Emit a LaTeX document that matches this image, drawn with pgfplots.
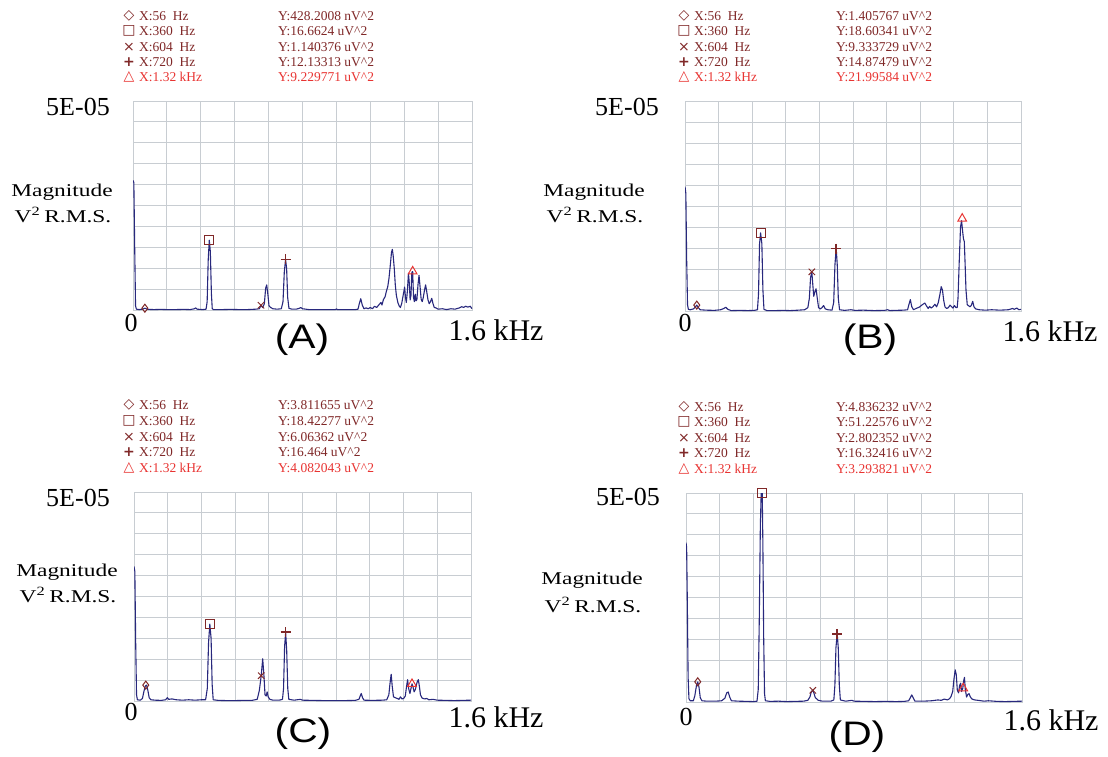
\documentclass[border=0pt]{standalone}
\usepackage{pgfplots}
\pgfplotsset{compat=1.18}
\usepackage{fontspec}
\setmainfont{Liberation Serif}
\newfontfamily\sansf{Liberation Sans}
\newfontfamily\symf{DejaVu Sans}

\definecolor{navy}{RGB}{40,40,125}
\definecolor{gridgray}{RGB}{200,205,210}
\definecolor{mkred}{RGB}{128,40,40}
\definecolor{trired}{RGB}{232,52,50}

\pgfplotsset{
  spec/.style={
    scale only axis, anchor=south west,
    xmin=0, xmax=1600, ymin=0, ymax=50,
    xtick={0,160,...,1600}, ytick={0,5,...,50},
    xticklabels={}, yticklabels={},
    major tick length=0pt,
    grid=major,
    major grid style={draw=gridgray, line width=0.9pt},
    axis line style={draw=gridgray, line width=0.9pt},
    clip mode=individual,
  },
  spline/.style={navy, line width=1.1pt, line join=round, mark=none},
  mk/.style={only marks, draw=mkred, line width=1pt, mark options={solid, fill=none}},
}

\newcommand\legtxt{\fontsize{13.5}{13.5}\selectfont}
\newcommand\symtxt{\fontsize{14}{14}\selectfont}
\newcommand\bigtxt{\fontsize{26}{26}\selectfont}
\newcommand\khz{\fontsize{30}{30}\selectfont}
\newcommand\magtxt[1]{\scalebox{1.3}[1]{\fontsize{18}{18}\selectfont #1}}
\newcommand\panel[1]{\scalebox{1.2}[1]{\sansf\fontsize{34}{34}\selectfont (#1)}}

% legend block: symbol x, X text x, Y text x, five row y's, five Y values
\newcommand\legend[9]{%
  \node[mkred, anchor=center, inner sep=0] at (#1pt,-#4pt) {\symf\symtxt ◇};
  \node[mkred, anchor=center, inner sep=0] at (#1pt,-#5pt) {\symf\symtxt □};
  \node[mkred, anchor=center, inner sep=0] at (#1pt,-#6pt) {\symf\symtxt ×};
  \node[mkred, anchor=center, inner sep=0] at (#1pt,-#7pt) {\symf\symtxt\bfseries +};
  \node[trired, anchor=center, inner sep=0] at (#1pt,-#8pt) {\symf\symtxt △};
  \node[mkred, anchor=west, inner sep=0] at (#2pt,-#4pt) {\legtxt X:56~~Hz};
  \node[mkred, anchor=west, inner sep=0] at (#2pt,-#5pt) {\legtxt X:360~~Hz};
  \node[mkred, anchor=west, inner sep=0] at (#2pt,-#6pt) {\legtxt X:604~~Hz};
  \node[mkred, anchor=west, inner sep=0] at (#2pt,-#7pt) {\legtxt X:720~~Hz};
  \node[trired, anchor=west, inner sep=0] at (#2pt,-#8pt) {\legtxt X:1.32 kHz};
  \def\ytx{#3}%
  \legendy#9%
}
\newcommand\legendy[5]{%
  \node[mkred, anchor=west, inner sep=0] at (\ytx pt,-\ra pt) {\legtxt Y:#1};
  \node[mkred, anchor=west, inner sep=0] at (\ytx pt,-\rb pt) {\legtxt Y:#2};
  \node[mkred, anchor=west, inner sep=0] at (\ytx pt,-\rc pt) {\legtxt Y:#3};
  \node[mkred, anchor=west, inner sep=0] at (\ytx pt,-\rd pt) {\legtxt Y:#4};
  \node[trired, anchor=west, inner sep=0] at (\ytx pt,-\re pt) {\legtxt Y:#5};
}

\begin{document}
\begin{tikzpicture}
\useasboundingbox (0pt,0pt) rectangle (1108pt,-756pt);

% ---------------- (A) ----------------
\begin{axis}[spec, at={(133pt,-310pt)}, width=339pt, height=209pt]
\addplot[spline] coordinates {
(0,31.0)(4,30.5)(8,15)(12,1.0)(16,0.2)(30,0.1)(45,0.2)(56,0.43)(70,0.15)(100,0.1)
(130,0.15)(160,0.1)(200,0.1)(240,0.15)(270,0.1)(290,0.3)(296,0.5)(302,0.2)(330,0.1)
(345,0.2)(350,2)(355,12)(360,16.7)(365,14)(370,4)(374,0.3)(380,0.1)(420,0.1)(460,0.15)
(500,0.1)(540,0.1)(580,0.2)(596,0.3)(604,1.1)(612,0.6)(620,1.5)(626,5.2)(631,6.0)
(636,4)(642,1)(650,0.6)(660,0.3)(680,0.2)(700,0.3)(708,2)(714,9)(720,12.1)(725,10)
(730,3)(736,0.4)(750,0.2)(770,0.2)(785,0.4)(792,0.6)(800,0.3)(830,0.1)(880,0.1)
(920,0.1)(955,0.1)(960,0.25)(965,0.1)(1000,0.1)(1050,0.1)(1062,0.2)(1068,1.5)(1075,2.7)
(1082,1.2)(1090,0.3)(1100,0.5)(1110,0.3)(1120,0.6)(1130,0.3)(1140,0.9)(1150,0.6)
(1160,1.2)(1170,1.8)(1175,1.2)(1182,2.5)(1190,3.2)(1196,4.5)(1202,5.5)(1208,7.5)
(1214,10.5)(1220,13.8)(1224,14.5)(1228,13.0)(1233,10)(1238,6)(1243,3.5)(1250,1.8)
(1256,1.0)(1262,0.6)(1268,1.5)(1274,3.2)(1278,4.3)(1282,5.5)(1286,3.0)(1290,1.8)
(1295,4.5)(1300,8.8)(1304,6.5)(1308,2.4)(1312,3.5)(1316,9.0)(1320,9.2)(1324,3.0)
(1328,2.0)(1332,3.8)(1336,2.2)(1340,2.5)(1345,6)(1350,8.3)(1355,5.5)(1360,2.6)
(1365,2.0)(1370,3.0)(1376,4.8)(1381,6.0)(1386,4.5)(1392,2.5)(1398,1.5)(1404,2.0)
(1410,2.8)(1416,1.5)(1422,0.6)(1430,0.5)(1440,0.2)(1460,0.3)(1480,0.1)(1500,0.3)
(1520,0.2)(1540,0.5)(1552,0.8)(1560,0.6)(1570,0.9)(1580,0.7)(1592,0.9)(1600,0.3)
};
\addplot[mk, mark=diamond, mark size=4pt] coordinates {(56,0.428)};
\addplot[mk, mark=square, mark size=4.6pt] coordinates {(360,16.66)};
\addplot[mk, mark=x, mark size=4.5pt] coordinates {(604,1.14)};
\addplot[mk, mark=+, mark size=5pt, line width=1.5pt] coordinates {(720,12.13)};
\addplot[mk, draw=trired, mark=triangle, mark size=5pt] coordinates {(1320,9.23)};
\end{axis}

% ---------------- (B) ----------------
\begin{axis}[spec, at={(685pt,-311pt)}, width=336pt, height=210pt]
\addplot[spline] coordinates {
(0,29.6)(4,28)(8,12)(12,1.5)(16,0.4)(25,0.3)(40,0.5)(50,1.0)(56,1.4)(62,0.9)(72,0.3)
(100,0.2)(140,0.15)(170,0.3)(185,0.6)(194,0.9)(204,0.4)(220,0.1)(260,0.15)(300,0.1)
(330,0.15)(345,0.3)(350,4)(355,16)(360,18.6)(366,16)(371,5)(376,0.4)(390,0.1)(430,0.1)
(470,0.15)(500,0.1)(540,0.2)(570,0.3)(585,0.8)(592,3)(598,8)(604,9.3)(609,6)(613,3.5)
(618,4.5)(624,5.3)(630,3.0)(636,0.8)(645,0.5)(652,0.8)(660,1.3)(668,0.5)(680,0.3)
(700,0.2)(708,2)(714,11)(720,14.9)(725,11)(730,3)(736,0.3)(760,0.15)(790,0.3)
(810,0.15)(850,0.2)(900,0.1)(950,0.15)(965,0.3)(975,0.1)(1000,0.15)(1040,0.2)(1060,0.3)
(1066,1.5)(1073,2.7)(1080,1.0)(1088,0.3)(1100,0.6)(1115,0.9)(1130,1.5)(1142,1.9)
(1150,1.2)(1158,0.6)(1165,1.1)(1172,0.7)(1180,1.0)(1190,1.6)(1198,1.0)(1206,2.0)
(1214,4.0)(1220,5.8)(1226,5.0)(1232,2.5)(1238,1.0)(1246,0.6)(1254,0.8)(1262,1.4)
(1270,1.0)(1276,0.7)(1283,1.3)(1290,0.8)(1296,0.8)(1300,3)(1306,12)(1312,20)
(1317,21.5)(1322,19)(1326,17.2)(1330,16.5)(1334,11)(1338,5)(1344,1.5)(1352,1.2)
(1358,1.0)(1364,1.4)(1370,2.3)(1376,1.0)(1384,0.5)(1400,0.3)(1430,0.2)(1460,0.3)
(1500,0.2)(1540,0.3)(1560,0.6)(1568,0.4)(1580,0.7)(1590,0.3)(1600,0.4)
};
\addplot[mk, mark=diamond, mark size=4pt] coordinates {(56,1.41)};
\addplot[mk, mark=square, mark size=4.6pt] coordinates {(360,18.60)};
\addplot[mk, mark=x, mark size=4.5pt] coordinates {(604,9.33)};
\addplot[mk, mark=+, mark size=5pt, line width=1.5pt] coordinates {(720,14.87)};
\addplot[mk, draw=trired, mark=triangle, mark size=5pt] coordinates {(1320,22.0)};
\end{axis}

% ---------------- (C) ----------------
\begin{axis}[spec, at={(134pt,-701pt)}, width=337pt, height=209pt]
\addplot[spline] coordinates {
(0,32.2)(4,31)(8,14)(12,1.5)(16,0.3)(30,0.2)(40,0.6)(48,2.5)(54,3.6)(60,3.8)(66,2.5)
(72,0.8)(80,0.3)(100,0.2)(130,0.15)(150,0.3)(158,0.8)(165,0.4)(180,0.5)(200,0.3)
(230,0.2)(260,0.3)(290,0.2)(320,0.3)(340,0.3)(348,3)(354,14)(360,18.4)(366,15)(371,4)
(376,0.3)(400,0.15)(440,0.1)(480,0.1)(520,0.15)(560,0.15)(585,0.4)(595,2.5)(604,6.1)
(611,10.1)(617,6)(622,1.5)(628,1.2)(632,2.2)(637,1.0)(645,0.4)(660,0.2)(690,0.2)
(705,0.4)(710,3)(715,13)(720,16.4)(725,12)(730,3)(735,0.4)(760,0.2)(790,0.4)(800,0.2)
(850,0.15)(900,0.1)(950,0.1)(1000,0.1)(1050,0.15)(1068,0.4)(1074,1.2)(1079,1.8)
(1085,0.8)(1092,0.2)(1130,0.15)(1180,0.2)(1200,0.3)(1210,1.5)(1215,4)(1221,6.4)
(1226,3.5)(1232,1.0)(1240,0.8)(1250,0.6)(1258,0.4)(1265,1.0)(1272,0.5)(1280,0.6)
(1288,1.2)(1294,3.5)(1299,5.1)(1304,3.0)(1310,1.8)(1316,3.2)(1320,4.1)(1324,3.5)
(1330,2.2)(1336,2.8)(1344,4.5)(1350,5.1)(1355,3.5)(1360,1.5)(1368,0.7)(1380,0.5)
(1390,0.6)(1400,0.3)(1420,0.4)(1440,0.2)(1480,0.15)(1520,0.1)(1560,0.15)(1600,0.2)
};
\addplot[mk, mark=diamond, mark size=4pt] coordinates {(56,3.81)};
\addplot[mk, mark=square, mark size=4.6pt] coordinates {(360,18.42)};
\addplot[mk, mark=x, mark size=4.5pt] coordinates {(604,6.06)};
\addplot[mk, mark=+, mark size=5pt, line width=1.5pt] coordinates {(720,16.46)};
\addplot[mk, draw=trired, mark=triangle, mark size=5pt] coordinates {(1320,4.08)};
\end{axis}

% ---------------- (D) ----------------
\begin{axis}[spec, at={(686pt,-702pt)}, width=336pt, height=209pt]
\addplot[spline] coordinates {
(0,38.1)(3,37)(6,25)(10,6)(14,0.8)(20,0.3)(35,0.3)(42,1.5)(50,4)(56,4.8)(62,3.5)
(68,1.0)(76,0.3)(100,0.2)(140,0.2)(170,0.3)(185,0.9)(194,2.2)(201,2.4)(208,1.2)
(216,0.3)(250,0.2)(290,0.15)(320,0.1)(338,0.2)(344,3)(349,20)(354,42)(358,50)(360,51.2)
(363,50)(366,38)(370,15)(374,2)(378,0.3)(400,0.15)(440,0.2)(480,0.1)(520,0.15)(560,0.2)
(580,0.4)(590,1.2)(597,2.5)(604,2.8)(610,2.0)(616,1.0)(622,0.8)(630,0.4)(650,0.2)
(690,0.2)(704,0.5)(709,4)(714,13)(720,16.3)(725,13)(730,4)(735,0.5)(760,0.2)(790,0.4)
(800,0.2)(850,0.15)(900,0.1)(950,0.15)(1000,0.1)(1040,0.15)(1060,0.3)(1068,1.0)
(1075,1.7)(1082,1.0)(1090,0.2)(1130,0.2)(1170,0.3)(1200,0.5)(1215,0.4)(1230,0.7)
(1245,0.5)(1255,0.8)(1262,1.3)(1270,2.5)(1276,5.5)(1282,7.7)(1287,6.5)(1292,2.8)
(1298,2.2)(1303,4.0)(1308,4.5)(1312,2.5)(1318,3.3)(1322,5.0)(1326,5.9)(1330,3.0)
(1336,1.2)(1342,1.8)(1348,2.0)(1354,1.2)(1362,0.7)(1375,0.5)(1390,0.4)(1420,0.2)
(1440,0.3)(1480,0.15)(1520,0.1)(1560,0.15)(1600,0.2)
};
\addplot[mk, mark=diamond, mark size=4pt] coordinates {(56,4.84)};
\addplot[mk, mark=square, mark size=4.6pt] coordinates {(360,50)};
\addplot[mk, mark=x, mark size=4.5pt] coordinates {(604,2.80)};
\addplot[mk, mark=+, mark size=5pt, line width=1.5pt] coordinates {(720,16.32)};
\addplot[mk, draw=trired, mark=triangle, mark size=5pt] coordinates {(1320,3.29)};
\end{axis}

% ---------------- legends ----------------
\def\ra{16}\def\rb{31}\def\rc{47}\def\rd{62}\def\re{77}
\legend{129}{139}{278}{16}{31}{47}{62}{77}{{428.2008 nV\^{}2}{16.6624 uV\^{}2}{1.140376 uV\^{}2}{12.13313 uV\^{}2}{9.229771 uV\^{}2}}
\legend{684}{694}{836}{16}{31}{47}{62}{77}{{1.405767 uV\^{}2}{18.60341 uV\^{}2}{9.333729 uV\^{}2}{14.87479 uV\^{}2}{21.99584 uV\^{}2}}
\def\ra{405}\def\rb{421}\def\rc{437}\def\rd{452}\def\re{468}
\legend{129}{139}{278}{405}{421}{437}{452}{468}{{3.811655 uV\^{}2}{18.42277 uV\^{}2}{6.06362 uV\^{}2}{16.464 uV\^{}2}{4.082043 uV\^{}2}}
\def\ra{407}\def\rb{422}\def\rc{438}\def\rd{453}\def\re{469}
\legend{684}{694}{836}{407}{422}{438}{453}{469}{{4.836232 uV\^{}2}{51.22576 uV\^{}2}{2.802352 uV\^{}2}{16.32416 uV\^{}2}{3.293821 uV\^{}2}}

% ---------------- axis texts ----------------
\node at (78pt,-107pt) {\bigtxt 5E-05};
\node at (627pt,-107pt) {\bigtxt 5E-05};
\node at (78pt,-498pt) {\bigtxt 5E-05};
\node at (628pt,-497pt) {\bigtxt 5E-05};

\node at (62pt,-192pt) {\magtxt{Magnitude}};
\node at (63pt,-215pt) {\magtxt{V\textsuperscript{2}\,R.M.S.}};
\node at (594pt,-192pt) {\magtxt{Magnitude}};
\node at (595pt,-215pt) {\magtxt{V\textsuperscript{2}\,R.M.S.}};
\node at (67pt,-572pt) {\magtxt{Magnitude}};
\node at (68pt,-595pt) {\magtxt{V\textsuperscript{2}\,R.M.S.}};
\node at (592pt,-580pt) {\magtxt{Magnitude}};
\node at (593pt,-605pt) {\magtxt{V\textsuperscript{2}\,R.M.S.}};

\node at (131pt,-323pt) {\bigtxt 0};
\node at (685pt,-323pt) {\bigtxt 0};
\node at (131pt,-712pt) {\bigtxt 0};
\node at (686pt,-717pt) {\bigtxt 0};

\node at (496pt,-330pt) {\khz 1.6 kHz};
\node at (1050pt,-331pt) {\khz 1.6 kHz};
\node at (496pt,-717pt) {\khz 1.6 kHz};
\node at (1051pt,-720pt) {\khz 1.6 kHz};

\node at (302pt,-340pt) {\panel{A}};
\node at (870pt,-340pt) {\panel{B}};
\node at (303pt,-734pt) {\panel{C}};
\node at (857pt,-737pt) {\panel{D}};
\end{tikzpicture}
\end{document}
